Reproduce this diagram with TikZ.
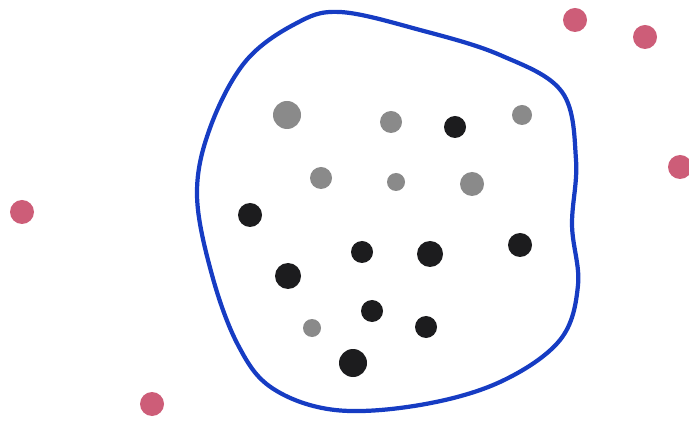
\documentclass[tikz,border=0pt]{standalone}
\usepackage{tikz}
\definecolor{rimblue}{RGB}{22,60,195}
\definecolor{outred}{RGB}{200,75,105}
\definecolor{ingray}{RGB}{125,125,125}
\definecolor{inblack}{RGB}{28,28,30}

\begin{document}
\begin{tikzpicture}[
  x=0.01cm, y=-0.01cm,
  rim/.style={draw=rimblue, line width=1.2pt, line join=round},
  reddot/.style={fill=outred, opacity=0.9},
  graydot/.style={fill=ingray, opacity=0.9},
  blackdot/.style={fill=inblack}
]
\useasboundingbox (0,0) rectangle (689,422);

% the closed boundary
\draw[rim] plot[smooth cycle, tension=0.6] coordinates {
  (340,12) (420,30) (500,55) (562,92) (576,160) (572,225)
  (578,285) (560,340) (500,382) (420,405) (335,410) (272,388)
  (238,345) (212,275) (197,195) (210,128) (245,62) (295,24)};

% dots outside
\foreach \x/\y in {575/20, 645/37, 680/167, 22/212, 152/404}
  \fill[reddot] (\x,\y) circle (12);

% gray dots inside
\foreach \x/\y/\r in {287/115/14, 391/122/11, 522/115/10, 321/178/11,
                      396/182/9, 472/184/12, 312/328/9}
  \fill[graydot] (\x,\y) circle (\r);

% black dots inside
\foreach \x/\y/\r in {455/127/11, 250/215/12, 362/252/11, 430/254/13,
                      520/245/12, 288/276/13, 372/311/11, 426/327/11, 353/363/14}
  \fill[blackdot] (\x,\y) circle (\r);

\end{tikzpicture}
\end{document}
